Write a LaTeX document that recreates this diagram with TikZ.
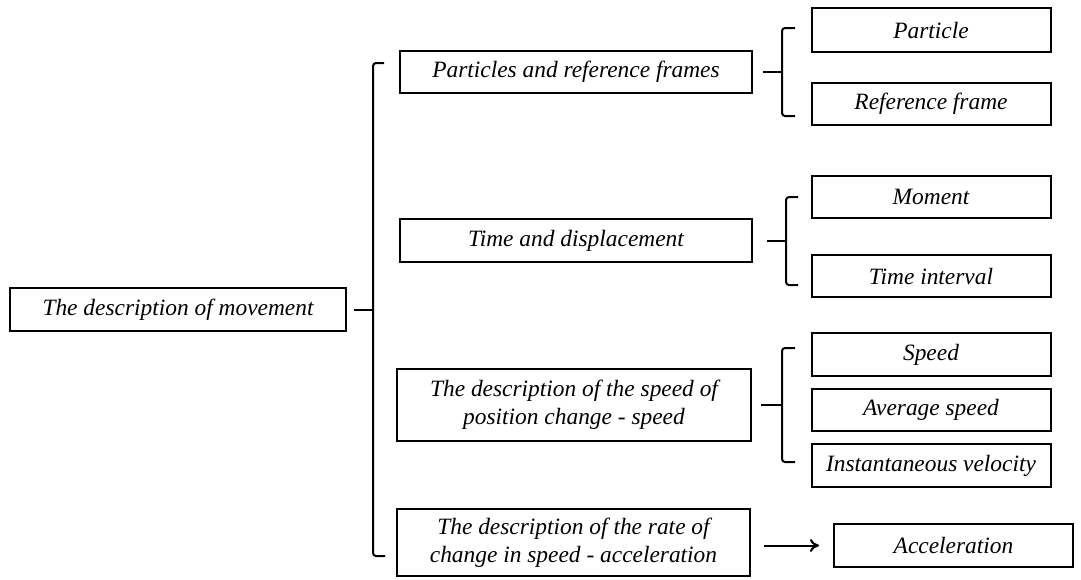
\documentclass[tikz,border=0pt]{standalone}
\usepackage{fontspec}
\setmainfont{Liberation Serif}
\usetikzlibrary{arrows.meta}
\tikzset{>={To[length=9pt,width=13pt]}}
\tikzset{
  box/.style={draw=black,line width=2pt,align=center,inner sep=0pt,
    font=\fontsize{23.4}{28}\selectfont\itshape},
  brace/.style={draw=black,line width=2pt,rounded corners=3pt}
}

\begin{document}
\begin{tikzpicture}[x=1pt,y=-1pt]
\useasboundingbox (0,0) rectangle (1081,579);
% root
\node[box,minimum width=336pt,minimum height=43pt] (root) at (178,309.5) {The description of movement};
% first level
\node[box,minimum width=352pt,minimum height=42pt] (part) at (576,72) {Particles and reference frames};
\node[box,minimum width=352pt,minimum height=43pt] (time) at (576,240.5) {Time and displacement};
\node[box,minimum width=354pt,minimum height=72pt] (speedd) at (574,405) {The description of the speed of\\position change - speed};
\node[box,minimum width=353pt,minimum height=67pt] (accd) at (573.5,542.5) {The description of the rate of\\change in speed - acceleration};
% second level
\node[box,minimum width=239pt,minimum height=44pt] (particle) at (931,30) {Particle};
\node[box,minimum width=239pt,minimum height=42pt] (refframe) at (931,104) {Reference frame};
\node[box,minimum width=239pt,minimum height=42pt] (moment) at (931,197) {Moment};
\node[box,minimum width=239pt,minimum height=42pt] (interval) at (931,276) {Time interval};
\node[box,minimum width=239pt,minimum height=43pt] (speed) at (931,354.5) {Speed};
\node[box,minimum width=239pt,minimum height=42pt] (avg) at (931,410) {Average speed};
\node[box,minimum width=239pt,minimum height=43pt] (inst) at (931,465.5) {Instantaneous velocity};
\node[box,minimum width=239pt,minimum height=43pt] (accel) at (953.5,545.5) {Acceleration};
% brackets
\coordinate (b0) at (373,309.5);
\coordinate (b1) at (782,72);
\coordinate (b2) at (786,240.5);
\coordinate (b3) at (782,405);
\path [brace] (384,63) -- (373,63) -- (373,556) -- (385,556);
\path [draw,line width=2pt] ([xshift=7pt]root.east) -- (b0);
\path [brace] (795,28) -- (782,28) -- (782,116) -- (795,116);
\path [draw,line width=2pt] ([xshift=10pt]part.east) -- (b1);
\path [brace] (798,197) -- (786,197) -- (786,285) -- (798,285);
\path [draw,line width=2pt] ([xshift=14pt]time.east) -- (b2);
\path [brace] (795,348) -- (782,348) -- (782,462) -- (795,462);
\path [draw,line width=2pt] ([xshift=9pt]speedd.east) -- (b3);
\path [draw,line width=2pt,->] ([xshift=13pt]accd.east |- accel.west) -- ([xshift=-14pt]accel.west);
\end{tikzpicture}
\end{document}
